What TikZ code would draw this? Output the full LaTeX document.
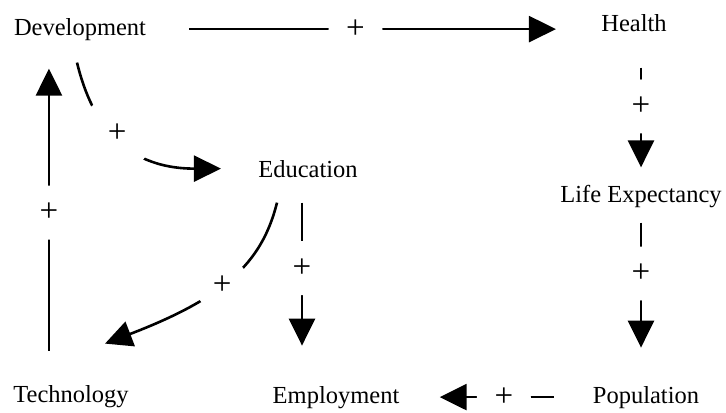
\documentclass[tikz,border=0pt]{standalone}
\usepackage{fontspec}
\setmainfont{Liberation Serif}
\usetikzlibrary{arrows.meta}

\begin{document}
\begin{tikzpicture}[x=0.5pt,y=-0.5pt,
    every node/.style={font=\fontsize{12.25}{14}\selectfont},
    factor/.style={inner sep=0pt,anchor=base},
    link/.style={line width=1.3pt,-{Triangle[length=13.5pt,width=13pt]}},
    plus/.style={circle,fill=white,inner sep=0pt,minimum size=27pt,font=\fontsize{16.5}{18}\selectfont}]
  \useasboundingbox (0,0) rectangle (726,412);
  % factors
  \node[factor] (dev) at (80,35) {Development};
  \node[factor] (hea) at (634,31) {Health};
  \node[factor] (lif) at (641,202) {Life Expectancy};
  \node[factor] (edu) at (308,177) {Education};
  \node[factor] (tec) at (71,402) {Technology};
  \node[factor] (emp) at (336,403) {Employment};
  \node[factor] (pop) at (646,403) {Population};
  % links
  \draw[link,shorten <=21.5pt,shorten >=22.5pt] (dev.east) -- (dev.east -| hea.west) node[plus,pos=0.46] {+};
  \draw[link,shorten <=18pt,shorten >=8.5pt] (lif.north |- hea.south) -- (lif.north) node[plus,pos=0.49] {+};
  \draw[link,shorten <=7.5pt,shorten >=19pt] (lif.south) -- (lif.south |- pop.north) node[plus,pos=0.37] {+};
  \draw[link,shorten <=19.5pt,shorten >=20pt] (pop.west) -- (pop.west -| emp.east) node[plus,pos=0.46] {+};
  \draw[link,shorten <=12.5pt,shorten >=20pt] ([xshift=-3pt]edu.south) -- ([xshift=-3pt]edu.south |- emp.north) node[plus,pos=0.435] {+};
  \draw[link,shorten <=17pt,shorten >=14pt] ([xshift=18pt]tec.north west) -- ([xshift=18pt]tec.north west |- dev.south) node[plus,pos=0.5] {+};
  \draw[link,shorten >=18.5pt] ([shift={(-1.5pt,-11pt)}]dev.south) .. controls +(13,53) and +(-139,0) .. (edu.west) node[plus,minimum size=37pt,pos=0.48] {+};
  \draw[link] ([shift={(-15.5pt,-12.5pt)}]edu.south) .. controls +(-15,60) and +(120,-46) .. ([shift={(17pt,20.5pt)}]tec.north) node[plus,pos=0.55] {+};
\end{tikzpicture}
\end{document}
